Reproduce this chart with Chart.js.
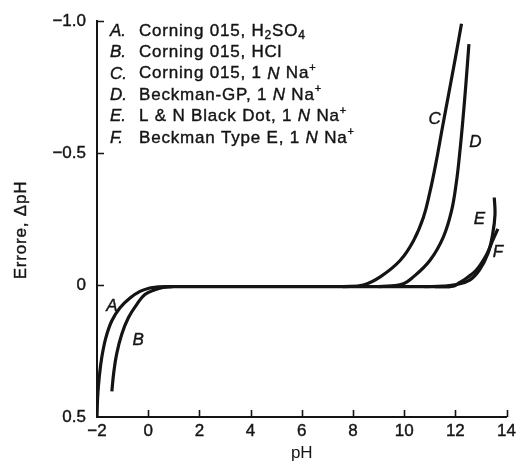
<!DOCTYPE html>
<html>
<head>
<meta charset="utf-8">
<script src="https://cdn.jsdelivr.net/npm/chart.js@4.4.1/dist/chart.umd.min.js"></script>
<style>
  html, body { margin: 0; padding: 0; background: #fff; }
  #wrap { width: 520px; height: 464px; }
</style>
</head>
<body>
<div id="wrap"><canvas id="chart" width="520" height="464"></canvas></div>
<script>
// pH error curves of glass electrodes (acid error at low pH, sodium error at high pH)
const phA  = [-2.0, -1.973, -1.91, -1.81, -1.65, -1.42, -1.10, -0.71, -0.32, 0.06, 0.39, 0.75, 11.8];
const errA = [0.496, 0.422, 0.347, 0.272, 0.198, 0.135, 0.086, 0.049, 0.024, 0.011, 0.007, 0.006, 0.006];

const phB  = [-1.42, -1.35, -1.23, -1.03, -0.77, -0.45, -0.13, 0.26, 0.58, 0.95];
const errB = [0.403, 0.335, 0.260, 0.185, 0.123, 0.074, 0.036, 0.018, 0.009, 0.006];

const phC  = [7.6, 8.4, 9.08, 9.85, 10.37, 10.75, 11.0, 11.24, 11.5, 11.75, 12.0, 12.24];
const errC = [0.006, 0.0, -0.032, -0.094, -0.169, -0.256, -0.350, -0.462, -0.600, -0.730, -0.860, -0.990];

const phD  = [9.0, 9.9, 10.37, 11.01, 11.53, 11.85, 12.04, 12.16, 12.28, 12.41, 12.53];
const errD = [0.006, -0.003, -0.032, -0.094, -0.182, -0.281, -0.390, -0.490, -0.610, -0.760, -0.913];

const phE  = [10.8, 11.53, 12.04, 12.56, 12.94, 13.27, 13.46, 13.55, 13.52];
const errE = [0.006, 0.004, -0.002, -0.019, -0.057, -0.119, -0.194, -0.269, -0.332];

const phF  = [11.2, 11.92, 12.17, 12.43, 12.82, 13.20, 13.46, 13.66];
const errF = [0.006, 0.004, -0.010, -0.026, -0.057, -0.112, -0.169, -0.213];

const xTicks = [-2, 0, 2, 4, 6, 8, 10, 12, 14];
const yTicks = [-1.0, -0.5, 0, 0.5];
const yTickText = ['\u22121.0', '\u22120.5', '0', '0.5'];

const curveNames = ['A', 'B', 'C', 'D', 'E', 'F'];
// where each curve letter sits, in pH / error units
const labelPH  = [-1.42, -0.39, 11.19, 12.78, 12.94, 13.66];
const labelErr = [0.082, 0.210, -0.630, -0.540, -0.250, -0.126];

// key text: plain, italic (i), subscript (sub), superscript (sup)
const keyLines = [
  [{t: 'Corning 015, H'}, {t: '2', sub: 1}, {t: 'SO'}, {t: '4', sub: 1}],
  [{t: 'Corning 015, HCl'}],
  [{t: 'Corning 015, 1 '}, {t: 'N', i: 1}, {t: ' Na'}, {t: '+', sup: 1}],
  [{t: 'Beckman-GP, 1 '}, {t: 'N', i: 1}, {t: ' Na'}, {t: '+', sup: 1}],
  [{t: 'L & N Black Dot, 1 '}, {t: 'N', i: 1}, {t: ' Na'}, {t: '+', sup: 1}],
  [{t: 'Beckman Type E, 1 '}, {t: 'N', i: 1}, {t: ' Na'}, {t: '+', sup: 1}]
];

const FAMILY = '"Liberation Sans", Arial, Helvetica, sans-serif';
const INK = '#141414';
const STROKE = 0.4;

const series = [[phA, errA], [phB, errB], [phC, errC], [phD, errD], [phE, errE], [phF, errF]];
const datasets = series.map(([xs, ys], k) => ({
  label: curveNames[k],
  data: xs.map((x, i) => ({x, y: ys[i]})),
  borderColor: INK,
  borderWidth: 3.2,
  pointRadius: 0,
  fill: false,
  tension: 0.4,
  borderCapStyle: 'butt'
}));

function put(ctx, text, x, y) {
  ctx.fillText(text, x, y);
  ctx.strokeText(text, x, y);
}

const decor = {
  id: 'decor',
  afterDraw(chart) {
    const {ctx, scales: {x, y}, chartArea: a} = chart;
    ctx.save();
    ctx.strokeStyle = INK;
    ctx.lineWidth = 1.6;
    // inward tick marks
    ctx.beginPath();
    xTicks.forEach(v => {
      if (v === xTicks[0]) return;
      const px = Math.round(x.getPixelForValue(v)) + 0.5;
      ctx.moveTo(px, a.bottom);
      ctx.lineTo(px, a.bottom - 7);
    });
    yTicks.forEach(v => {
      if (v === yTicks[yTicks.length - 1]) return;
      const py = Math.round(y.getPixelForValue(v)) + 0.5;
      ctx.moveTo(a.left, py);
      ctx.lineTo(a.left + 7, py);
    });
    ctx.stroke();

    ctx.fillStyle = INK;
    ctx.lineWidth = STROKE;
    ctx.textBaseline = 'middle';
    ctx.letterSpacing = '0.8px';

    // axis title (vertical)
    ctx.save();
    ctx.translate(21, 230);
    ctx.rotate(-Math.PI / 2);
    ctx.textAlign = 'center';
    ctx.font = '17px ' + FAMILY;
    put(ctx, 'Errore, \u0394pH', 0, 0);
    ctx.restore();

    // curve letters
    ctx.letterSpacing = '0px';
    ctx.textAlign = 'center';
    ctx.font = 'italic 17px ' + FAMILY;
    curveNames.forEach((n, k) => {
      put(ctx, n, x.getPixelForValue(labelPH[k]), y.getPixelForValue(labelErr[k]));
    });

    // key
    ctx.textAlign = 'left';
    keyLines.forEach((segs, k) => {
      const cy = 31 + k * 21.4;
      ctx.letterSpacing = '0px';
      ctx.font = 'italic 17px ' + FAMILY;
      put(ctx, curveNames[k] + '.', 110, cy);
      ctx.letterSpacing = '0.8px';
      let cx = 139;
      segs.forEach(s => {
        let dy = 0;
        if (s.sub) { ctx.font = '12px ' + FAMILY; dy = 5; }
        else if (s.sup) { ctx.font = '11px ' + FAMILY; dy = -6; }
        else if (s.i) { ctx.font = 'italic 17px ' + FAMILY; }
        else { ctx.font = '17px ' + FAMILY; }
        put(ctx, s.t, cx, cy + dy);
        cx += ctx.measureText(s.t).width;
      });
    });
    ctx.restore();
  }
};

new Chart(document.getElementById('chart'), {
  type: 'line',
  data: {datasets},
  plugins: [decor],
  options: {
    responsive: false,
    devicePixelRatio: 1,
    animation: false,
    events: [],
    layout: {padding: {top: 15, right: 10, left: 0, bottom: 0}},
    plugins: {legend: {display: false}, tooltip: {enabled: false}},
    scales: {
      x: {
        type: 'linear',
        min: -2, max: 14,
        afterFit: s => { s.height = 47; },
        afterBuildTicks: s => { s.ticks = xTicks.map(v => ({value: v})); },
        grid: {display: true, drawOnChartArea: false, drawTicks: false},
        border: {display: true, color: INK, width: 2},
        title: {display: true, text: 'pH', color: INK, font: {family: FAMILY, size: 17}, padding: {top: 0, bottom: 0}},
        ticks: {
          color: INK, padding: 4, maxRotation: 0, autoSkip: false,
          textStrokeColor: INK, textStrokeWidth: STROKE,
          font: {family: FAMILY, size: 17},
          callback: v => (v < 0 ? '\u2212' + Math.abs(v) : String(v))
        }
      },
      y: {
        type: 'linear',
        reverse: true,
        min: -1.0, max: 0.5,
        afterFit: s => { s.width = 97; },
        afterBuildTicks: s => { s.ticks = yTicks.map(v => ({value: v})); },
        grid: {display: true, drawOnChartArea: false, drawTicks: false},
        border: {display: true, color: INK, width: 2},
        ticks: {
          color: INK, padding: 11, autoSkip: false,
          textStrokeColor: INK, textStrokeWidth: STROKE,
          font: {family: FAMILY, size: 17},
          callback: (v, i) => yTickText[i]
        }
      }
    }
  }
});
</script>
</body>
</html>
